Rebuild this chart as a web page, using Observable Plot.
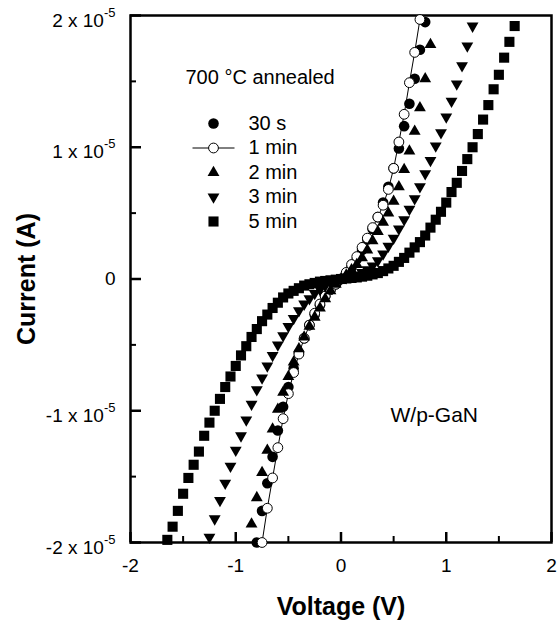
<!DOCTYPE html>
<html>
<head>
<meta charset="utf-8">
<script src="https://cdn.jsdelivr.net/npm/d3@7"></script>
<script src="https://cdn.jsdelivr.net/npm/@observablehq/plot@0.6"></script>
<style>
  body { margin: 0; background: #fff; }
  #chart { width: 559px; height: 622px; }
</style>
</head>
<body>
<div id="chart"></div>
<script>
// ---- Data (current in units of 1e-5 A, voltage in V) ----
const seriesNames = ["30 s", "1 min", "2 min", "3 min", "5 min"];

const voltage30s = [-0.80,-0.75,-0.70,-0.65,-0.60,-0.55,-0.50,-0.45,-0.40,-0.35,-0.30,-0.25,-0.20,-0.15,-0.10,-0.05,0,
  0.05,0.10,0.15,0.20,0.25,0.30,0.35,0.40,0.45,0.50,0.55,0.60,0.65,0.70,0.75,0.80];
const current30s = [-2.00,-1.76,-1.55,-1.35,-1.15,-0.97,-0.82,-0.68,-0.56,-0.45,-0.35,-0.27,-0.20,-0.13,-0.08,-0.04,0,
  0.04,0.09,0.15,0.22,0.30,0.38,0.47,0.58,0.70,0.84,0.99,1.16,1.33,1.52,1.74,1.95];

const voltage1min = [-0.75,-0.70,-0.65,-0.60,-0.55,-0.50,-0.45,-0.40,-0.35,-0.30,-0.25,-0.20,-0.15,-0.10,-0.05,0,
  0.05,0.10,0.15,0.20,0.25,0.30,0.35,0.40,0.45,0.50,0.55,0.60,0.65,0.70,0.75];
const current1min = [-2.00,-1.74,-1.51,-1.28,-1.06,-0.87,-0.71,-0.57,-0.45,-0.35,-0.26,-0.19,-0.13,-0.08,-0.04,0,
  0.05,0.11,0.17,0.24,0.31,0.39,0.47,0.56,0.68,0.84,1.04,1.25,1.49,1.72,1.97];

const voltage2min = [-0.85,-0.80,-0.75,-0.70,-0.65,-0.60,-0.55,-0.50,-0.45,-0.40,-0.35,-0.30,-0.25,-0.20,-0.15,-0.10,-0.05,0,
  0.05,0.10,0.15,0.20,0.25,0.30,0.35,0.40,0.45,0.50,0.55,0.60,0.65,0.70,0.75,0.80,0.85];
const current2min = [-1.86,-1.66,-1.47,-1.30,-1.14,-0.99,-0.86,-0.74,-0.63,-0.53,-0.44,-0.36,-0.29,-0.22,-0.15,-0.09,-0.04,0,
  0.03,0.07,0.11,0.16,0.22,0.29,0.36,0.43,0.50,0.59,0.70,0.83,0.97,1.12,1.30,1.52,1.78];

const voltage3min = [-1.25,-1.20,-1.15,-1.10,-1.05,-1.00,-0.95,-0.90,-0.85,-0.80,-0.75,-0.70,-0.65,-0.60,-0.55,-0.50,
  -0.45,-0.40,-0.35,-0.30,-0.25,-0.20,-0.15,-0.10,-0.05,0,
  0.05,0.10,0.15,0.20,0.25,0.30,0.35,0.40,0.45,0.50,0.55,0.60,0.65,0.70,0.75,0.80,0.85,0.90,0.95,1.00,
  1.05,1.10,1.15,1.20,1.25];
const current3min = [-1.96,-1.82,-1.68,-1.55,-1.42,-1.30,-1.19,-1.07,-0.95,-0.84,-0.75,-0.66,-0.58,-0.50,-0.43,-0.36,
  -0.30,-0.24,-0.19,-0.15,-0.11,-0.08,-0.05,-0.03,-0.01,0,
  0.01,0.02,0.03,0.05,0.07,0.10,0.14,0.19,0.25,0.31,0.38,0.45,0.53,0.61,0.70,0.80,0.90,1.01,1.11,1.23,
  1.35,1.48,1.62,1.77,1.92];

const voltage5min = [-1.65,-1.60,-1.55,-1.50,-1.45,-1.40,-1.35,-1.30,-1.25,-1.20,-1.15,-1.10,-1.05,-1.00,-0.95,-0.90,
  -0.85,-0.80,-0.75,-0.70,-0.65,-0.60,-0.55,-0.50,-0.45,-0.40,-0.35,-0.30,-0.25,-0.20,-0.15,-0.10,-0.05,0,
  0.05,0.10,0.15,0.20,0.25,0.30,0.35,0.40,0.45,0.50,0.55,0.60,0.65,0.70,0.75,0.80,0.85,0.90,0.95,1.00,
  1.05,1.10,1.15,1.20,1.25,1.30,1.35,1.40,1.45,1.50,1.55,1.60,1.65];
const current5min = [-1.98,-1.88,-1.76,-1.63,-1.51,-1.41,-1.31,-1.19,-1.09,-1.00,-0.91,-0.82,-0.74,-0.66,-0.58,-0.51,
  -0.44,-0.38,-0.32,-0.27,-0.22,-0.18,-0.14,-0.11,-0.09,-0.07,-0.05,-0.04,-0.03,-0.02,-0.015,-0.01,-0.005,0,
  0.004,0.008,0.012,0.018,0.025,0.035,0.045,0.06,0.08,0.10,0.13,0.16,0.20,0.24,0.28,0.33,0.39,0.45,0.51,0.58,
  0.66,0.73,0.82,0.91,1.00,1.10,1.21,1.32,1.44,1.55,1.68,1.80,1.92];

const xTicks = [-2, -1, 0, 1, 2];
const xMinorTicks = [-1.5, -0.5, 0.5, 1.5];
const yTicks = [-2, -1, 0, 1, 2];
const yMinorTicks = [-1.5, -0.5, 0.5, 1.5];
const yTickLabels = ["-2 x 10", "-1 x 10", "0", "1 x 10", "2 x 10"];
const yTickExponent = "-5";
const xLabel = "Voltage (V)";
const yLabel = "Current (A)";
const annealLabel = "700 \u00B0C annealed";
const sampleLabel = "W/p-GaN";

// ---- Helpers ----
const pts = (vs, is) => vs.map((v, k) => ({v, i: is[k]}));
const d30s = pts(voltage30s, current30s);
const d1min = pts(voltage1min, current1min);
const d2min = pts(voltage2min, current2min);
const d3min = pts(voltage3min, current3min);
const d5min = pts(voltage5min, current5min);

const S3 = Math.sqrt(3);
const triangleDown = {
  draw(ctx, size) {
    const y = Math.sqrt(size / (S3 * 3));
    ctx.moveTo(0, 2 * y);
    ctx.lineTo(S3 * y, -y);
    ctx.lineTo(-S3 * y, -y);
    ctx.closePath();
  }
};
const legendLine = {
  draw(ctx) { ctx.moveTo(-21, 0); ctx.lineTo(21, 0); }
};

const styles = [
  {symbol: "circle", r: 5.3, fill: "black", stroke: "none"},
  {symbol: "circle", r: 4.9, fill: "white", stroke: "black"},
  {symbol: "triangle", r: 4.4, fill: "black", stroke: "none"},
  {symbol: triangleDown, r: 4.4, fill: "black", stroke: "none"},
  {symbol: "square", r: 5.7, fill: "black", stroke: "none"}
];
const datasets = [d30s, d1min, d2min, d3min, d5min];

const W = 559, H = 622, mL = 130, mR = 8, mT = 15, mB = 80;
const fw = W - mL - mR, fh = H - mT - mB;

const dataMarks = [];
datasets.forEach((data, k) => {
  if (k === 1) dataMarks.push(Plot.line(data, {x: "v", y: "i", stroke: "black", strokeWidth: 1}));
  const s = styles[k];
  dataMarks.push(Plot.dot(data, {x: "v", y: "i", r: s.r, symbol: s.symbol, fill: s.fill, stroke: s.stroke, strokeWidth: 1}));
});

const legendMarks = [];
seriesNames.forEach((name, k) => {
  const dy = 108 + k * 24.5;
  const s = styles[k];
  if (k === 1) legendMarks.push(Plot.dot([name], {frameAnchor: "top-left", dx: 83, dy, symbol: legendLine, r: 5, stroke: "black", fill: "none", strokeWidth: 1}));
  legendMarks.push(Plot.dot([name], {frameAnchor: "top-left", dx: 83, dy, r: s.r, symbol: s.symbol, fill: s.fill, stroke: s.stroke, strokeWidth: 1}));
  legendMarks.push(Plot.text([name], {frameAnchor: "top-left", dx: 118, dy, text: d => d, textAnchor: "start", lineAnchor: "middle", fontSize: 20, fill: "black"}));
});

const chart = Plot.plot({
  width: W, height: H,
  marginLeft: mL, marginRight: mR, marginTop: mT, marginBottom: mB,
  style: {fontFamily: "'Liberation Sans', Arial, Helvetica, sans-serif", background: "white", color: "black"},
  x: {domain: [-2, 2], label: null},
  y: {domain: [-2, 2], label: null},
  marks: [
    Plot.axisX({ticks: xTicks, tickSize: 0, tickPadding: 16, tickFormat: d => String(d), fontSize: 19, label: null}),
    Plot.axisY({ticks: yTicks, tickSize: 0, tickPadding: 15, tickFormat: d => yTickLabels[yTicks.indexOf(d)], fontSize: 19, label: null}),
    Plot.ruleX(xTicks, {x: d => d, insetTop: fh - 10, stroke: "black", strokeWidth: 2.5}),
    Plot.ruleX(xMinorTicks, {x: d => d, insetTop: fh - 6, stroke: "black", strokeWidth: 2}),
    Plot.ruleY(yTicks, {y: d => d, insetRight: fw - 11, stroke: "black", strokeWidth: 2.5}),
    Plot.ruleY(yMinorTicks, {y: d => d, insetRight: fw - 6, stroke: "black", strokeWidth: 2}),
    Plot.frame({stroke: "black", strokeWidth: 2.5}),
    ...dataMarks,
    ...legendMarks,
    Plot.text([annealLabel], {frameAnchor: "top-left", dx: 55, dy: 62, text: d => d, textAnchor: "start", lineAnchor: "middle", fontSize: 20, fill: "black"}),
    Plot.text([sampleLabel], {frameAnchor: "top-left", dx: 260, dy: 400, text: d => d, textAnchor: "start", lineAnchor: "middle", fontSize: 21, fill: "black"}),
    Plot.text([xLabel], {frameAnchor: "bottom", dy: 64, text: d => d, textAnchor: "middle", lineAnchor: "middle", fontSize: 25, fontWeight: "bold", fill: "black"}),
    Plot.text([yLabel], {frameAnchor: "left", dx: -104, rotate: -90, text: d => d, textAnchor: "middle", lineAnchor: "middle", fontSize: 25, fontWeight: "bold", fill: "black"})
  ]
});

// superscript exponents on y tick labels
const NS = "http://www.w3.org/2000/svg";
chart.querySelectorAll("text").forEach(t => {
  const s = t.textContent;
  if (/ x 10$/.test(s)) {
    while (t.firstChild) t.removeChild(t.firstChild);
    const a = document.createElementNS(NS, "tspan");
    a.setAttribute("dy", "5");
    a.textContent = s;
    const b = document.createElementNS(NS, "tspan");
    b.setAttribute("dy", "-10");
    b.setAttribute("font-size", "13");
    b.textContent = yTickExponent;
    t.append(a, b);
  }
});

document.getElementById("chart").append(chart);
</script>
</body>
</html>
